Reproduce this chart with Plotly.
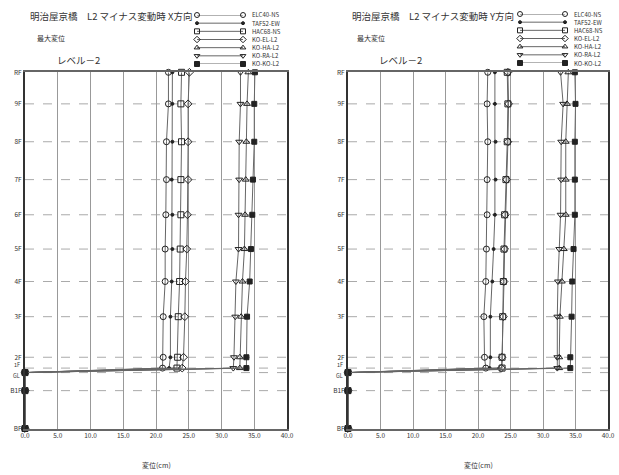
import plotly.graph_objects as go

# ---------------- data ----------------
levels = ["RF", "9F", "8F", "7F", "6F", "5F", "4F", "3F", "2F", "1F", "GL", "B1F", "BF"]
level_heights = [39.5, 36.0, 31.8, 27.6, 23.7, 19.9, 16.3, 12.4, 7.9, 6.7, 6.2, 4.2, 0.0]

series_names = ["ELC40-NS", "TAF52-EW", "HAC68-NS", "KO-EL-L2", "KO-HA-L2", "KO-RA-L2", "KO-KO-L2"]
series_symbols = ["circle-open", "circle", "square-open", "diamond-open",
                  "triangle-up-open", "triangle-down-open", "square"]

x_tick_values = [0, 5, 10, 15, 20, 25, 30, 35, 40]
x_tick_labels = ["0.0", "5.0", "10.0", "15.0", "20.0", "25.0", "30.0", "35.0", "40.0"]

# X direction max displacement (cm), top (RF) to bottom (BF)
xdir_elc40 = [21.9, 21.9, 21.6, 21.6, 21.5, 21.4, 21.4, 21.1, 21.1, 21.0, 0.0, 0.0, 0.0]
xdir_taf52 = [22.5, 22.5, 22.5, 22.4, 22.5, 22.5, 22.4, 22.2, 22.2, 22.0, 0.0, 0.0, 0.0]
xdir_hac68 = [23.9, 23.8, 23.9, 23.8, 23.8, 23.7, 23.6, 23.4, 23.3, 23.2, 0.0, 0.0, 0.0]
xdir_ko_el = [25.1, 24.9, 24.9, 24.9, 24.8, 24.7, 24.5, 24.4, 24.2, 24.0, 0.0, 0.0, 0.0]
xdir_ko_ha = [34.1, 33.9, 33.8, 33.7, 33.6, 33.5, 33.2, 33.0, 32.8, 32.8, 0.0, 0.0, 0.0]
xdir_ko_ra = [32.9, 32.9, 32.7, 32.7, 32.6, 32.6, 32.2, 32.1, 31.9, 31.8, 0.0, 0.0, 0.0]
xdir_ko_ko = [35.1, 35.0, 35.0, 34.8, 34.7, 34.5, 34.3, 33.9, 33.8, 33.8, 0.0, 0.0, 0.0]

# Y direction max displacement (cm)
ydir_elc40 = [21.5, 21.4, 21.5, 21.4, 21.4, 21.3, 21.2, 20.9, 21.0, 21.2, 0.0, 0.0, 0.0]
ydir_taf52 = [22.6, 22.6, 22.7, 22.7, 22.6, 22.4, 22.2, 21.9, 21.9, 21.8, 0.0, 0.0, 0.0]
ydir_hac68 = [24.5, 24.6, 24.5, 24.3, 24.1, 24.0, 23.9, 23.8, 23.7, 23.7, 0.0, 0.0, 0.0]
ydir_ko_el = [24.6, 24.7, 24.6, 24.4, 24.2, 24.1, 24.0, 23.9, 23.7, 23.6, 0.0, 0.0, 0.0]
ydir_ko_ha = [33.9, 33.7, 33.5, 33.5, 33.5, 33.2, 32.9, 32.6, 32.5, 32.5, 0.0, 0.0, 0.0]
ydir_ko_ra = [32.7, 33.1, 32.8, 32.8, 32.7, 32.5, 32.3, 32.2, 32.2, 32.2, 0.0, 0.0, 0.0]
ydir_ko_ko = [34.9, 35.0, 34.9, 34.9, 34.9, 34.7, 34.5, 34.4, 34.2, 34.2, 0.0, 0.0, 0.0]

xdir_series = [xdir_elc40, xdir_taf52, xdir_hac68, xdir_ko_el, xdir_ko_ha, xdir_ko_ra, xdir_ko_ko]
ydir_series = [ydir_elc40, ydir_taf52, ydir_hac68, ydir_ko_el, ydir_ko_ha, ydir_ko_ra, ydir_ko_ko]

titles = ["明治屋京橋　L2 マイナス変動時 X方向", "明治屋京橋　L2 マイナス変動時 Y方向"]
subtitle = "最大変位"
level_label = "レベル－2"
x_title = "変位(cm)"

# ---------------- layout helpers ----------------
W, H = 619, 475
FONT = "Noto Sans CJK JP"


def px(xp):
    return xp / W


def py(yp):
    return 1 - yp / H


fig = go.Figure()

panels = [
    dict(data=xdir_series, xa="x", ya="y", dom=(25, 287), legx=(197, 243), legy=(15, 64),
         title_x=28, sub_x=35, lev_x=55, xt_x=156),
    dict(data=ydir_series, xa="x2", ya="y2", dom=(348, 608), legx=(520, 565), legy=(14, 63),
         title_x=350, sub_x=355, lev_x=377, xt_x=478),
]
leg_axes = [("x3", "y3"), ("x4", "y4")]

marker_size = [6, 3, 6, 6, 6, 6, 5]
legend_marker_size = [5, 3, 5, 5, 5, 5, 5]

# tick labels that sit too close together are drawn as shifted annotations
close_labels = {"1F": 3, "GL": -3}

for p, (lxa, lya) in zip(panels, leg_axes):
    for i, (name, sym) in enumerate(zip(series_names, series_symbols)):
        fig.add_trace(go.Scatter(
            x=p["data"][i], y=level_heights, xaxis=p["xa"], yaxis=p["ya"],
            mode="lines+markers", name=name, showlegend=False, cliponaxis=False,
            line=dict(color="#666", width=1),
            marker=dict(symbol=sym, size=marker_size[i], color="#222",
                        line=dict(color="#222", width=1)),
        ))
        # custom legend sample (marker - line - marker)
        fig.add_trace(go.Scatter(
            x=[0, 1], y=[i, i], xaxis=lxa, yaxis=lya, mode="lines+markers",
            showlegend=False, hoverinfo="skip", cliponaxis=False,
            line=dict(color="#666", width=1),
            marker=dict(symbol=sym, size=legend_marker_size[i], color="#222",
                        line=dict(color="#222", width=1)),
        ))
        fig.add_annotation(x=1, y=i, xref=lxa, yref=lya, text=name, showarrow=False,
                           xanchor="left", xshift=7, font=dict(family=FONT, size=6, color="#333"))
    for lab, h in zip(levels, level_heights):
        if lab in close_labels:
            fig.add_annotation(x=0, y=h, xref=p["xa"], yref=p["ya"], text=lab, showarrow=False,
                               xanchor="right", xshift=-3, yshift=close_labels[lab],
                               font=dict(family=FONT, size=5.5, color="#333"))

axis_common = dict(
    showline=True, linecolor="#666", linewidth=1.5, mirror=True,
    zeroline=False, ticks="", automargin=False,
    tickfont=dict(family=FONT, size=6.5, color="#333"),
)

layout = dict(
    width=W, height=H, margin=dict(l=0, r=0, t=0, b=0, autoexpand=False),
    paper_bgcolor="white", plot_bgcolor="white", showlegend=False,
    font=dict(family=FONT, color="#333"),
)

tick_h = [h for lab, h in zip(levels, level_heights) if lab not in close_labels]
tick_t = [lab for lab in levels if lab not in close_labels]

for k, p in enumerate(panels):
    sx = "" if k == 0 else "2"
    layout["xaxis" + sx] = dict(
        axis_common, domain=[px(p["dom"][0]), px(p["dom"][1])], range=[0, 40],
        tickvals=x_tick_values, ticktext=x_tick_labels,
        showgrid=True, gridcolor="#999", gridwidth=1, anchor="y" + sx,
    )
    layout["yaxis" + sx] = dict(
        axis_common, domain=[py(428.5), py(72.3)], range=[0, level_heights[0]],
        tickvals=tick_h, ticktext=tick_t,
        showgrid=False,
        anchor="x" + sx, linecolor="#333", linewidth=2,
    )
    # dashed level lines (drawn as shapes so that close levels also get one)
    for h in level_heights[1:-1]:
        fig.add_shape(type="line", xref=p["xa"] + " domain", yref=p["ya"],
                      x0=0, x1=1, y0=h, y1=h, layer="below",
                      line=dict(color="#aaa", width=1, dash="dash"))

for k, p in enumerate(panels):
    lx = "xaxis" + str(3 + k)
    ly = "yaxis" + str(3 + k)
    layout[lx] = dict(domain=[px(p["legx"][0]), px(p["legx"][1])], range=[0, 1],
                      visible=False, anchor="y" + str(3 + k), automargin=False)
    layout[ly] = dict(domain=[py(p["legy"][1]), py(p["legy"][0])], range=[6, 0],
                      visible=False, anchor="x" + str(3 + k), automargin=False)

fig.update_layout(**layout)

for k, p in enumerate(panels):
    fig.add_annotation(x=px(p["title_x"]), y=py(16), xref="paper", yref="paper",
                       text=titles[k], showarrow=False, xanchor="left", yanchor="middle",
                       font=dict(family=FONT, size=9.5, color="#333"))
    fig.add_annotation(x=px(p["sub_x"]), y=py(38), xref="paper", yref="paper",
                       text=subtitle, showarrow=False, xanchor="left", yanchor="middle",
                       font=dict(family=FONT, size=7, color="#333"))
    fig.add_annotation(x=px(p["lev_x"]), y=py(60), xref="paper", yref="paper",
                       text=level_label, showarrow=False, xanchor="left", yanchor="middle",
                       font=dict(family=FONT, size=9.5, color="#333"))
    fig.add_annotation(x=px(p["xt_x"]), y=py(465), xref="paper", yref="paper",
                       text=x_title, showarrow=False, xanchor="center", yanchor="middle",
                       font=dict(family=FONT, size=7, color="#333"))

fig.write_html("out.html", config={"displayModeBar": False},
               post_script="document.body.style.margin='0';document.body.style.overflow='hidden';")
